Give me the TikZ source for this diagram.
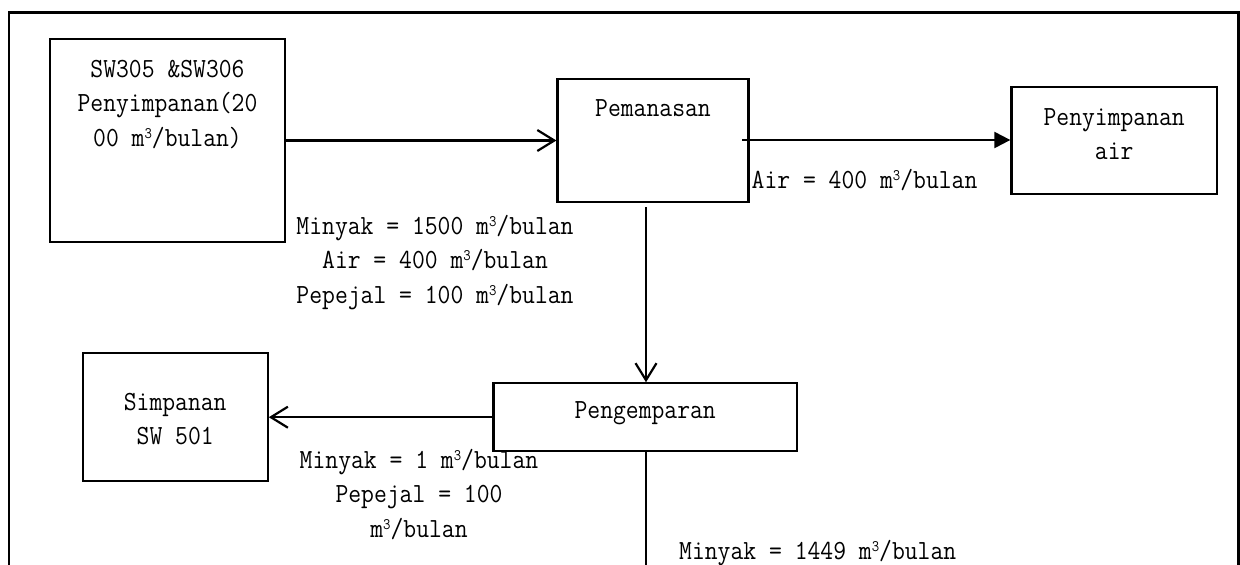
\documentclass[tikz,border=0pt]{standalone}
\usepackage{fontspec}
\setmonofont{Latin Modern Mono}[FakeStretch=0.9]
\usetikzlibrary{arrows.meta}
\newcommand{\mcu}{m\raisebox{8pt}{\fontsize{16}{16}\selectfont 3}}
\begin{document}
\begin{tikzpicture}[x=1pt,y=-1pt,
  box/.style={draw=black,line width=2.2pt,rectangle,inner sep=0pt},
  txt/.style={inner sep=0pt,align=center,font=\ttfamily\fontsize{27.7}{34.5}\selectfont},
  openarrow/.style={line width=2.2pt,-{Straight Barb[length=17pt,width=21pt,line width=2.2pt]}},
  fillarrow/.style={line width=2.2pt,-{Triangle[length=16pt,width=16pt]}},
  plainline/.style={line width=2.2pt}]
\useasboundingbox (0,0) rectangle (1240,565);
\draw[line width=2.5pt] (9,565) -- (9,12.5) -- (1238.5,12.5) -- (1238.5,565);
% boxes
\node[box,minimum width=235pt,minimum height=203pt] (b1) at (167.5,140.5) {};
\node[box,minimum width=191pt,minimum height=122.7pt] (b2) at (653,140.3) {};
\node[box,minimum width=205.5pt,minimum height=107.6pt] (b3) at (1114.2,140.5) {};
\node[box,minimum width=303.5pt,minimum height=67.7pt] (b4) at (645.2,417.2) {};
\node[box,minimum width=185pt,minimum height=127.7pt] (b5) at (175.2,417.2) {};
% box texts
\node[txt] (t1) at (167.5,104.5) {SW305 \&SW306\\Penyimpanan(20\\00 \mcu/bulan)};
\node[txt] (t2) at (653,108) {Pemanasan};
\node[txt] (t3) at (1114.2,134) {Penyimpanan\\air};
\node[txt] (t4) at (645.2,413) {Pengemparan};
\node[txt] (t5) at (175.2,419) {Simpanan\\SW 501};
% connectors
\draw[openarrow] (b1.east |- 0,140.5) -- (b2.west |- 0,140.5);
\coordinate (c2) at (742,140);
\draw[fillarrow] (c2) -- (c2 -| b3.west);
\coordinate (c1) at (646,207);
\draw[openarrow] (c1) -- (c1 |- b4.north);
\draw[openarrow] (b4.west) -- (b5.east);
\coordinate (c3) at (646,565);
\draw[plainline] (c3 |- b4.south) -- (c3);
% flow labels
\node[txt] (l1) at (435,262.5) {Minyak = 1500 \mcu/bulan\\Air = 400 \mcu/bulan\\Pepejal = 100 \mcu/bulan};
\node[txt,anchor=west] (l2) at (751.5,180) {Air = 400 \mcu/bulan};
\node[txt] (l3) at (419,494.5) {Minyak = 1 \mcu/bulan\\Pepejal = 100\\\mcu/bulan};
\node[txt,anchor=west] (l4) at (679,553) {Minyak = 1449 \mcu/bulan};
\end{tikzpicture}
\end{document}
